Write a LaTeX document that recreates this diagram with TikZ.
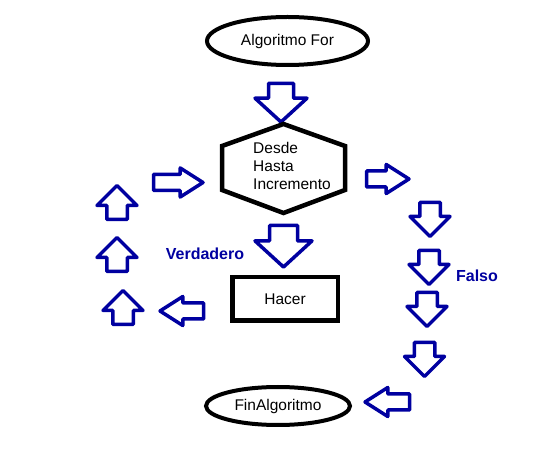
\documentclass[tikz,border=0pt]{standalone}
\usepackage{fontspec}
\setmainfont{Liberation Sans}
\usetikzlibrary{shapes.geometric,shapes.arrows}
\definecolor{arrowblue}{RGB}{0,0,160}

\begin{document}
\begin{tikzpicture}[x=1pt,y=-1pt,
                    every node/.style={font=\fontsize{15.5}{18}\selectfont},
                    term/.style={draw,ellipse,line width=4pt,inner sep=0pt},
                    block/.style={draw,line width=4.5pt,inner sep=0pt},
                    branch/.style={text=arrowblue,
                                   font=\fontsize{16}{19}\selectfont\bfseries},
                    % block arrows are placed by the middle of their tail
                    flow/.style={single arrow,draw=arrowblue,line width=3.5pt,
                                 line join=round,inner xsep=0pt,anchor=tail},
                    wide/.style={flow,inner ysep=8.5pt,minimum height=34pt,
                                 single arrow head extend=9.75pt,
                                 single arrow tip angle=90},
                    slim/.style={flow,inner ysep=6.25pt,
                                 single arrow head extend=6.5pt,
                                 single arrow tip angle=65},
                    tosouth/.style={rotate=-90},
                    tonorth/.style={rotate=90},
                    towest/.style={rotate=180}]
  \useasboundingbox (0,0) rectangle (536,454);
  \node[term,minimum width=161pt,minimum height=48pt] (start) at (287.5,41) {Algoritmo For};
  \node[flow,tosouth,inner ysep=10.75pt,minimum height=38.5pt,
        single arrow head extend=13.5pt,single arrow tip angle=95] (enter) at (281,81.75) {};
  % the loop header, a hexagon with pointed top and bottom
  \node[align=left,inner sep=0pt] (loop) at (292,166) {Desde\\Hasta\\Incremento};
  \draw[block] (222,146) -- (283.5,124) -- (345,146) -- (345,190)
               -- (283.5,213) -- (222,190) -- cycle;
  \node[flow,tosouth,inner ysep=12.25pt,minimum height=41.5pt,
        single arrow head extend=14.5pt,single arrow tip angle=95] (true) at (283.5,223.75) {};
  \node[branch] (yes) at (205,254) {Verdadero};
  \node[block,minimum width=105.5pt,minimum height=43.5pt] (body) at (285,299) {Hacer};
  % back up to the header
  \node[slim,towest,minimum height=43.5pt] (ret) at (205.25,311) {};
  \node[wide,tonorth] (up1) at (123,326.25) {};
  \node[wide,tonorth] (up2) at (117,273.25) {};
  \node[wide,tonorth] (up3) at (117,221.25) {};
  \node[slim,minimum height=49.5pt] (again) at (151.75,182.5) {};
  % out of the loop
  \node[slim,minimum height=42.5pt] (exit) at (364.75,179) {};
  \node[wide,tosouth] (fall1) at (430,200.75) {};
  \node[wide,tosouth] (fall2) at (429,248.75) {};
  \node[branch] (no) at (477,276) {Falso};
  \node[wide,tosouth] (fall3) at (427,290.75) {};
  \node[wide,tosouth] (fall4) at (424.5,340.75) {};
  \node[slim,towest,minimum height=44.5pt] (reach) at (411.25,402) {};
  \node[term,minimum width=144pt,minimum height=38pt] (stop) at (278,406) {FinAlgoritmo};
\end{tikzpicture}
\end{document}
